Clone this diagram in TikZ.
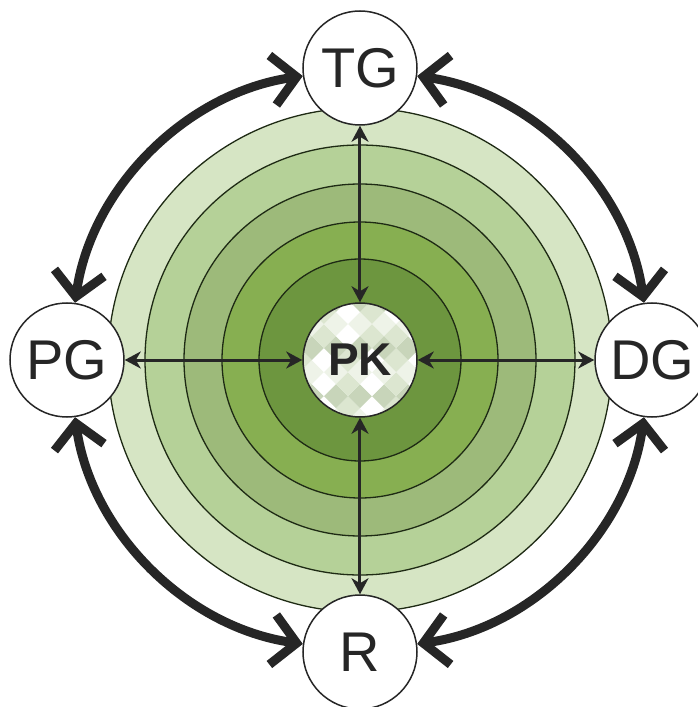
\documentclass[tikz,border=0pt]{standalone}
\usepackage{fontspec}
\setmainfont{Liberation Sans}
\usepackage{xcolor}
\usepackage{tikz}
\usetikzlibrary{arrows.meta}

\definecolor{cincinA}{HTML}{D6E5C4}
\definecolor{cincinB}{HTML}{B5D198}
\definecolor{cincinC}{HTML}{9DBA7A}
\definecolor{cincinD}{HTML}{87AF51}
\definecolor{cincinE}{HTML}{6D963F}
\definecolor{garis}{HTML}{1E2A14}
\definecolor{tinta}{HTML}{262626}
\definecolor{kotak0}{HTML}{FFFFFF}
\definecolor{kotak1}{HTML}{EEF3E8}
\definecolor{kotak2}{HTML}{DCE6D0}
\definecolor{kotak3}{HTML}{C8D5BA}

\begin{document}
\begin{tikzpicture}[x=1pt, y=1pt,
        satelit/.style={circle, draw=tinta, line width=1.5, fill=white, minimum size=114, inner sep=0pt,
            text=tinta, font=\fontsize{56}{60}\selectfont},
        panah/.style={draw=tinta, line width=3, {Stealth[length=16, width=17, inset=5]}-{Stealth[length=16, width=17, inset=5]}},
        busur/.style={draw=tinta, line width=9, looseness=0.93,
            {Straight Barb[length=24, width=50]}-{Straight Barb[length=24, width=50]}}]
        \useasboundingbox (-360,-347) rectangle (338,360);
        %CINCIN
        \foreach \r/\c in {252/cincinA, 215/cincinB, 176/cincinC, 138/cincinD, 101/cincinE}
            \filldraw[fill=\c, draw=garis, line width=1.3] (0,0) circle (\r);
        %POLA PK
        \begin{scope}
            \clip (0,0) circle (57);
            \fill[white] (-60,-60) rectangle (60,60);
            \foreach \i in {-5,...,4}
                \foreach \j in {-5,...,4} {
                    \pgfmathtruncatemacro\k{mod(abs(3*\i+5*\j+2*\i*\j)+7,4)}
                    \fill[kotak\k, rotate=45] (\i*17,\j*17) rectangle ++(17,17);
                }
        \end{scope}
        \node[circle, draw=tinta, line width=1.5, minimum size=114, inner sep=0pt, text=tinta,
            font=\bfseries\fontsize{46}{50}\selectfont] (pk) at (0,0) {PK};
        %SATELIT
        \node[satelit] (tg) at (0,292) {TG};
        \node[satelit] (pg) at (-293,0) {PG};
        \node[satelit] (dg) at (292,0) {DG};
        \node[satelit] (r) at (0,-292) {R};
        %PANAH DALAM
        \draw[panah] (pk) -- (tg);
        \draw[panah] (pk) -- (pg);
        \draw[panah] (pk) -- (dg);
        \draw[panah] (pk) -- (r);
        %BUSUR LUAR
        \draw[busur] (tg) to[out=188, in=82] (pg);
        \draw[busur] (tg) to[out=-8, in=98] (dg);
        \draw[busur] (pg) to[out=-82, in=172] (r);
        \draw[busur] (r) to[out=8, in=-98] (dg);
    \end{tikzpicture}
\end{document}
